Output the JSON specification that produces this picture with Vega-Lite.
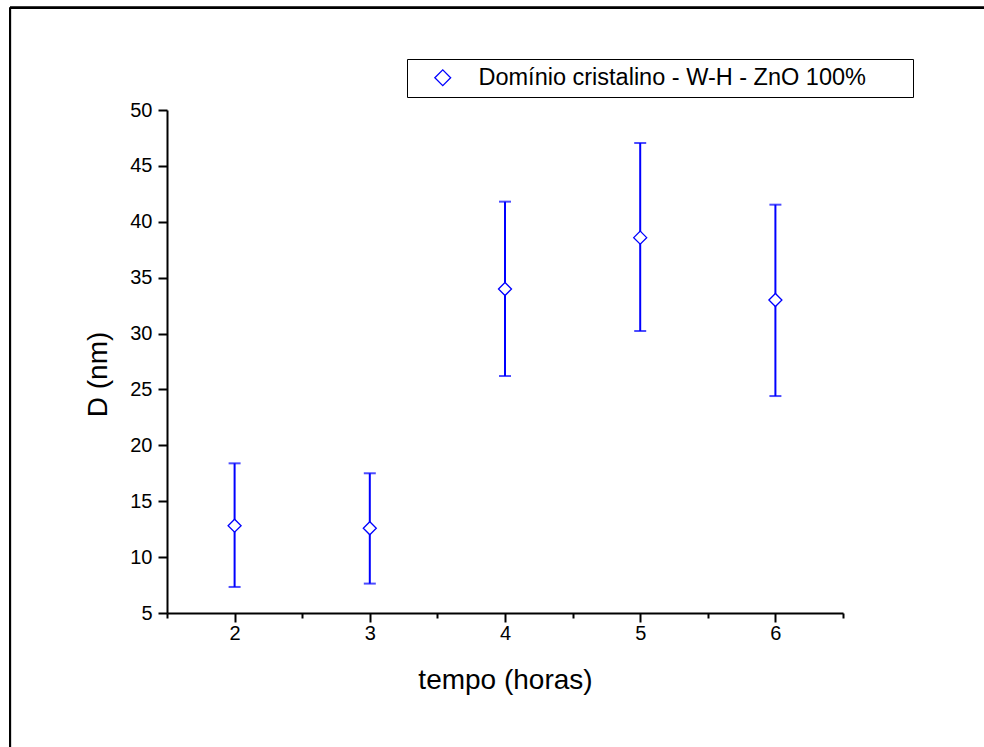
{
  "$schema": "https://vega.github.io/schema/vega-lite/v6.json",
  "autosize": "none",
  "width": 676,
  "height": 503,
  "padding": {"left": 167, "top": 110, "right": 141, "bottom": 134},
  "background": "white",
  "config": {
    "view": {"stroke": null},
    "font": "Liberation Sans",
    "legend": {"strokeWidth": 1},
    "axis": {
      "grid": false,
      "domainColor": "black",
      "domainWidth": 2,
      "tickColor": "black",
      "tickWidth": 2,
      "labelColor": "black",
      "titleColor": "black",
      "labelFont": "Liberation Sans",
      "titleFont": "Liberation Sans",
      "labelFontSize": 20,
      "titleFontSize": 28,
      "titleFontWeight": "normal"
    }
  },
  "data": {
    "values": [
      {"t": 2, "D": 12.81, "lo": 7.33, "hi": 18.39, "serie": "Domínio cristalino - W-H - ZnO 100%"},
      {"t": 3, "D": 12.58, "lo": 7.63, "hi": 17.5, "serie": "Domínio cristalino - W-H - ZnO 100%"},
      {"t": 4, "D": 33.99, "lo": 26.2, "hi": 41.8, "serie": "Domínio cristalino - W-H - ZnO 100%"},
      {"t": 5, "D": 38.58, "lo": 30.23, "hi": 47.05, "serie": "Domínio cristalino - W-H - ZnO 100%"},
      {"t": 6, "D": 33.0, "lo": 24.41, "hi": 41.53, "serie": "Domínio cristalino - W-H - ZnO 100%"}
    ]
  },
  "layer": [
    {
      "mark": {"type": "rule", "color": "black", "strokeWidth": 2, "clip": false},
      "encoding": {
        "x": {"datum": 0.339, "type": "quantitative"},
        "y": {"datum": 59.15, "type": "quantitative"},
        "y2": {"datum": -7.2}
      }
    },
    {
      "mark": {"type": "rule", "color": "black", "strokeWidth": 2, "clip": false},
      "encoding": {
        "x": {"datum": 0.339, "type": "quantitative"},
        "x2": {"datum": 7.6},
        "y": {"datum": 59.15, "type": "quantitative"}
      }
    },
    {
      "mark": {"type": "rule", "color": "#0000FF", "strokeWidth": 2},
      "encoding": {
        "x": {
          "field": "t", "type": "quantitative",
          "scale": {"domain": [1.5, 6.5], "nice": false, "zero": false},
          "axis": {
            "title": "tempo (horas)",
            "values": [1.5, 2, 2.5, 3, 3.5, 4, 4.5, 5, 5.5, 6, 6.5],
            "labelExpr": "datum.value % 1 === 0 ? format(datum.value, 'd') : ''",
            "tickSize": {"condition": {"test": "datum.value % 1 === 0", "value": 9}, "value": 5},
            "labelFontSize": 20,
            "labelFont": "Liberation Sans",
            "labelPadding": 1,
            "titlePadding": 23
          }
        },
        "y": {
          "field": "lo", "type": "quantitative",
          "scale": {"domain": [5, 50], "nice": false, "zero": false},
          "axis": {
            "title": "D (nm)",
            "values": [5, 7.5, 10, 12.5, 15, 17.5, 20, 22.5, 25, 27.5, 30, 32.5, 35, 37.5, 40, 42.5, 45, 47.5, 50],
            "labelExpr": "datum.value % 5 === 0 ? format(datum.value, 'd') : ''",
            "tickSize": {"condition": {"test": "datum.value % 5 === 0", "value": 9}, "value": 5},
            "labelFontSize": 20,
            "labelFont": "Liberation Sans",
            "labelPadding": 6,
            "titlePadding": 17,
            "titleY": 264
          }
        },
        "y2": {"field": "hi"}
      }
    },
    {
      "mark": {"type": "tick", "color": "#0000FF", "orient": "horizontal", "size": 12, "thickness": 2},
      "encoding": {
        "x": {"field": "t", "type": "quantitative"},
        "y": {"field": "hi", "type": "quantitative"}
      }
    },
    {
      "mark": {"type": "tick", "color": "#0000FF", "orient": "horizontal", "size": 12, "thickness": 2},
      "encoding": {
        "x": {"field": "t", "type": "quantitative"},
        "y": {"field": "lo", "type": "quantitative"}
      }
    },
    {
      "mark": {"type": "point", "shape": "diamond", "filled": false, "fill": "white", "fillOpacity": 1, "opacity": 1, "size": 169, "strokeWidth": 1.3},
      "encoding": {
        "x": {"field": "t", "type": "quantitative"},
        "y": {"field": "D", "type": "quantitative"},
        "color": {
          "field": "serie", "type": "nominal",
          "scale": {"range": ["#0000FF"]},
          "legend": {
            "title": null,
            "orient": "none",
            "legendX": 240,
            "legendY": -51,
            "padding": 7,
            "strokeColor": "black",
            "fillColor": "white",
            "cornerRadius": 0,
            "symbolType": "diamond",
            "symbolSize": 250,
            "symbolFillColor": "white",
            "symbolStrokeColor": "#0000FF",
            "symbolStrokeWidth": 1.3,
            "symbolOffset": 17,
            "labelOffset": 24,
            "labelFont": "Liberation Sans",
            "labelFontSize": 23.5,
            "labelColor": "black",
            "labelLimit": 800,
            "labelExpr": "datum.label + '\u00a0\u00a0\u00a0\u00a0\u00a0\u00a0\u200b'"
          }
        }
      }
    }
  ]
}
